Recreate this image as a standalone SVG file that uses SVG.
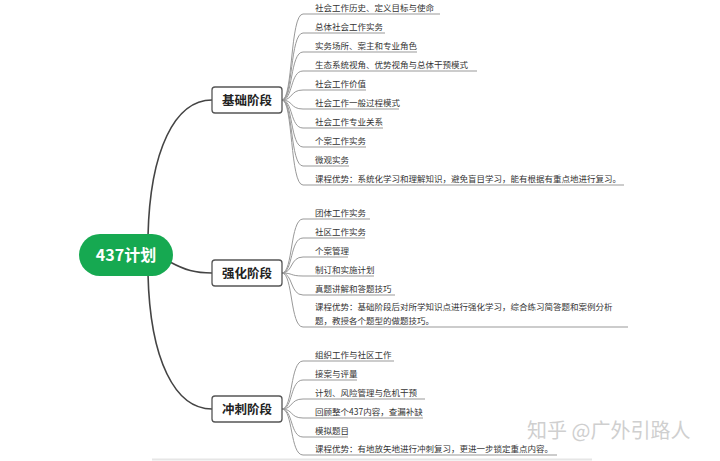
<svg xmlns="http://www.w3.org/2000/svg" width="720" height="461" viewBox="0 0 720 461">
<style>
.main{fill:none;stroke:#444;stroke-width:1.6}
.leafc{fill:none;stroke:#999;stroke-width:1}
.box{fill:#fff;stroke:#555;stroke-width:1.3}
.bt{font-family:"Noto Sans CJK SC","Noto Sans",sans-serif;font-size:12.5px;font-weight:bold;fill:#222;text-anchor:middle}
.lt{font-family:"Noto Sans CJK SC","Noto Sans",sans-serif;font-size:8.5px;fill:#333}
.rt{font-family:"Noto Sans CJK SC","Noto Sans",sans-serif;font-size:16px;font-weight:bold;fill:#fff;text-anchor:middle}
.wm{font-family:"Noto Sans CJK SC","Noto Sans",sans-serif;font-size:20px;fill:#cfcfcf}
</style>
<rect width="720" height="461" fill="#fff"/>
<g id="connectors">
<path class="main" d="M148,236 C150,150 175,100 212,100"/>
<path class="main" d="M170,262 C185,270 195,273 212,273"/>
<path class="main" d="M148,274 C150,360 175,409 212,409"/>
<g id="c1">
<path class="leafc" d="M282,100 C293,100 290,14 303,14 H440"/>
<path class="leafc" d="M282,100 C293,100 290,33 303,33 H385"/>
<path class="leafc" d="M282,100 C293,100 290,52 303,52 H417"/>
<path class="leafc" d="M282,100 C293,100 290,71 303,71 H477"/>
<path class="leafc" d="M282,100 C293,100 290,90 303,90 H366"/>
<path class="leafc" d="M282,100 C293,100 290,109 303,109 H399"/>
<path class="leafc" d="M282,100 C293,100 290,128 303,128 H383"/>
<path class="leafc" d="M282,100 C293,100 290,147 303,147 H366"/>
<path class="leafc" d="M282,100 C293,100 290,166 303,166 H349"/>
<path class="leafc" d="M282,100 C293,100 290,185 303,185 H624"/>
</g>
<g id="c2">
<path class="leafc" d="M282,273 C293,273 290,219 303,219 H370"/>
<path class="leafc" d="M282,273 C293,273 290,238 303,238 H365"/>
<path class="leafc" d="M282,273 C293,273 290,257 303,257 H348"/>
<path class="leafc" d="M282,273 C293,273 290,276 303,276 H374"/>
<path class="leafc" d="M282,273 C293,273 290,295 303,295 H395"/>
<path class="leafc" d="M282,273 C293,273 290,327 303,327 H628"/>
</g>
<g id="c3">
<path class="leafc" d="M282,409 C293,409 290,361 303,361 H394"/>
<path class="leafc" d="M282,409 C293,409 290,380 303,380 H357"/>
<path class="leafc" d="M282,409 C293,409 290,399 303,399 H425"/>
<path class="leafc" d="M282,409 C293,409 290,418 303,418 H423"/>
<path class="leafc" d="M282,409 C293,409 290,437 303,437 H348"/>
<path class="leafc" d="M282,409 C293,409 290,455 303,455 H557"/>
</g>
</g>
<g id="root">
<rect x="79" y="234" width="94" height="42" rx="21" fill="#16a951"/>
<text class="rt" x="126" y="261">437计划</text>
</g>
<g id="n1">
<rect class="box" x="212" y="87" width="70" height="26" rx="3"/>
<text class="bt" x="247" y="104.5">基础阶段</text>
</g>
<g id="n2">
<rect class="box" x="212" y="260" width="70" height="26" rx="3"/>
<text class="bt" x="247" y="277.5">强化阶段</text>
</g>
<g id="n3">
<rect class="box" x="212" y="396" width="70" height="26" rx="3"/>
<text class="bt" x="247" y="413.5">冲刺阶段</text>
</g>
<g id="leaves1">
<text class="lt" x="315" y="10.5">社会工作历史、定义目标与使命</text>
<text class="lt" x="315" y="29.5">总体社会工作实务</text>
<text class="lt" x="315" y="48.5">实务场所、案主和专业角色</text>
<text class="lt" x="315" y="67.5">生态系统视角、优势视角与总体干预模式</text>
<text class="lt" x="315" y="86.5">社会工作价值</text>
<text class="lt" x="315" y="105.5">社会工作一般过程模式</text>
<text class="lt" x="315" y="124.5">社会工作专业关系</text>
<text class="lt" x="315" y="143.5">个案工作实务</text>
<text class="lt" x="315" y="162.5">微观实务</text>
<text class="lt" x="315" y="181.5">课程优势：系统化学习和理解知识，避免盲目学习，能有根据有重点地进行复习。</text>
</g>
<g id="leaves2">
<text class="lt" x="315" y="215.5">团体工作实务</text>
<text class="lt" x="315" y="234.5">社区工作实务</text>
<text class="lt" x="315" y="253.5">个案管理</text>
<text class="lt" x="315" y="272.5">制订和实施计划</text>
<text class="lt" x="315" y="291.5">真题讲解和答题技巧</text>
<text class="lt" x="315" y="310">课程优势：基础阶段后对所学知识点进行强化学习，综合练习简答题和案例分析</text>
<text class="lt" x="315" y="323.5">题，教授各个题型的做题技巧。</text>
</g>
<g id="leaves3">
<text class="lt" x="315" y="357.5">组织工作与社区工作</text>
<text class="lt" x="315" y="376.5">接案与评量</text>
<text class="lt" x="315" y="395.5">计划、风险管理与危机干预</text>
<text class="lt" x="315" y="414.5">回顾整个437内容，查漏补缺</text>
<text class="lt" x="315" y="433.5">模拟题目</text>
<text class="lt" x="315" y="451.5">课程优势：有地放矢地进行冲刺复习，更进一步锁定重点内容。</text>
</g>
<line x1="152" y1="459.5" x2="592" y2="459.5" stroke="#e6e6e6" stroke-width="2"/>
<text class="wm" x="527" y="438">知乎 @广外引路人</text>
</svg>
